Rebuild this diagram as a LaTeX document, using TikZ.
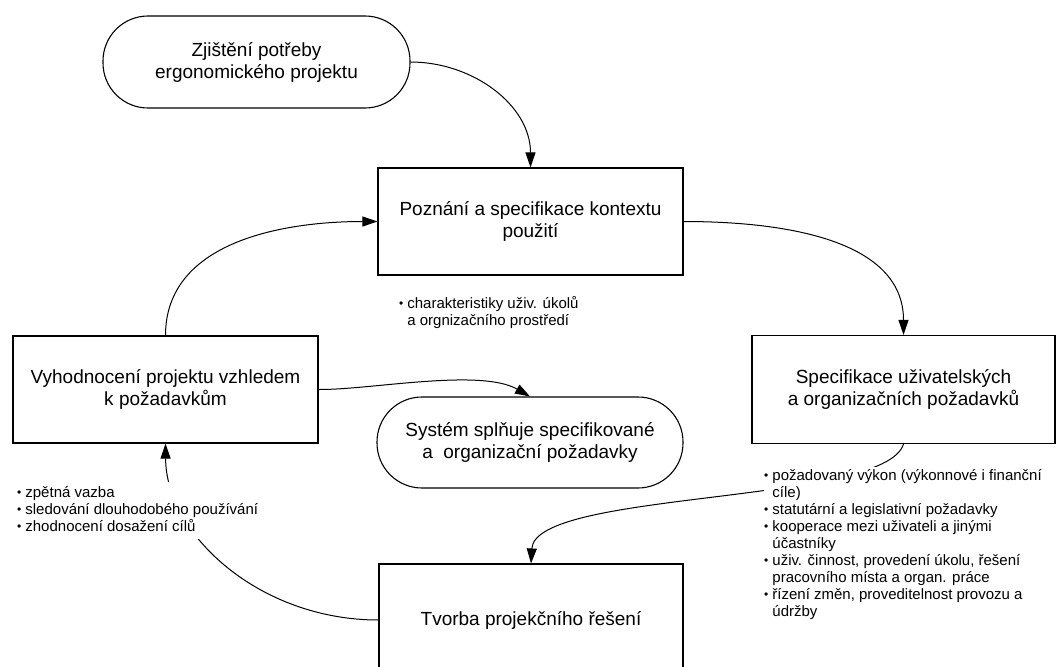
\documentclass[tikz,border=0pt]{standalone}
\usepackage{fontspec}
\setmainfont{Liberation Sans}
\usetikzlibrary{arrows.meta}
\newcommand\mybul{\raisebox{1pt}{\fontsize{12}{12}\selectfont\textbullet}}
\tikzset{
  mainbox/.style={draw, line width=1.1pt, align=center, inner sep=0pt,
    font=\fontsize{19}{22}\selectfont},
  ovalbox/.style={mainbox, rounded corners=45pt},
  conn/.style={line width=1pt, -{Triangle[length=15pt,width=10pt]}},
  notes/.style={fill=white, inner sep=0pt, anchor=north west, align=left,
    font=\fontsize{15}{17}\selectfont},
}
\begin{document}
\begin{tikzpicture}[x=1pt,y=-1pt]
\useasboundingbox (0,0) rectangle (1056,666);
\clip (0,0) rectangle (1056,666);
% main nodes
\node[ovalbox, minimum width=307pt, minimum height=92pt] (start) at (256.5,62)
  {Zjištění potřeby\\ergonomického projektu};
\node[mainbox, minimum width=305pt, minimum height=107pt] (pozn) at (530.5,221.5)
  {Poznání a specifikace kontextu\\použití};
\node[mainbox, minimum width=303pt, minimum height=108pt] (spec) at (903.5,389.5)
  {Specifikace uživatelských\\a organizačních požadavků};
\node[mainbox, minimum width=305pt, minimum height=107pt] (vyh) at (165.5,389.5)
  {Vyhodnocení projektu vzhledem\\k požadavkům};
\node[ovalbox, minimum width=306pt, minimum height=91pt] (sys) at (530,442.5)
  {Systém splňuje specifikované\\a\ \ organizační požadavky};
\node[mainbox, minimum width=304pt, minimum height=112pt] (tvor) at (531,620)
  {Tvorba projekčního řešení};
% connectors
\draw[conn] (start.east) to[out=0,in=90] (pozn.north);
\draw[conn] (pozn.east) to[out=0,in=90] (spec.north);
\draw[conn] (spec.south) .. controls (885,505) and (535,490) .. (tvor.north);
\draw[conn] (tvor.west) .. controls (260,620) and (166,535) .. (vyh.south);
\draw[conn] (vyh.north) to[out=90,in=180] (pozn.west);
\draw[conn] (vyh.east) .. controls (370,390) and (480,368) .. (sys.north);
% notes
\node[notes] (n1) at (399,296) {\begin{tabular}{@{}l@{\hspace{4pt}}l@{}}
\mybul & charakteristiky uživ. úkolů\\
 & a orgnizačního prostředí
\end{tabular}};
\node[notes, inner ysep=1pt] (n2) at (764,467) {\begin{tabular}{@{}l@{\hspace{4pt}}l@{}}
\mybul & požadovaný výkon (výkonnové i finanční\\
 & cíle)\\
\mybul & statutární a legislativní požadavky\\
\mybul & kooperace mezi uživateli a jinými\\
 & účastníky\\
\mybul & uživ. činnost, provedení úkolu, řešení\\
 & pracovního místa a organ. práce\\
\mybul & řízení změn, proveditelnost provozu a\\
 & údržby
\end{tabular}};
\node[notes, inner ysep=3pt] (n3) at (17,482) {\begin{tabular}{@{}l@{\hspace{4pt}}l@{}}
\mybul & zpětná vazba\\
\mybul & sledování dlouhodobého používání\\
\mybul & zhodnocení dosažení cílů
\end{tabular}};
\end{tikzpicture}
\end{document}
